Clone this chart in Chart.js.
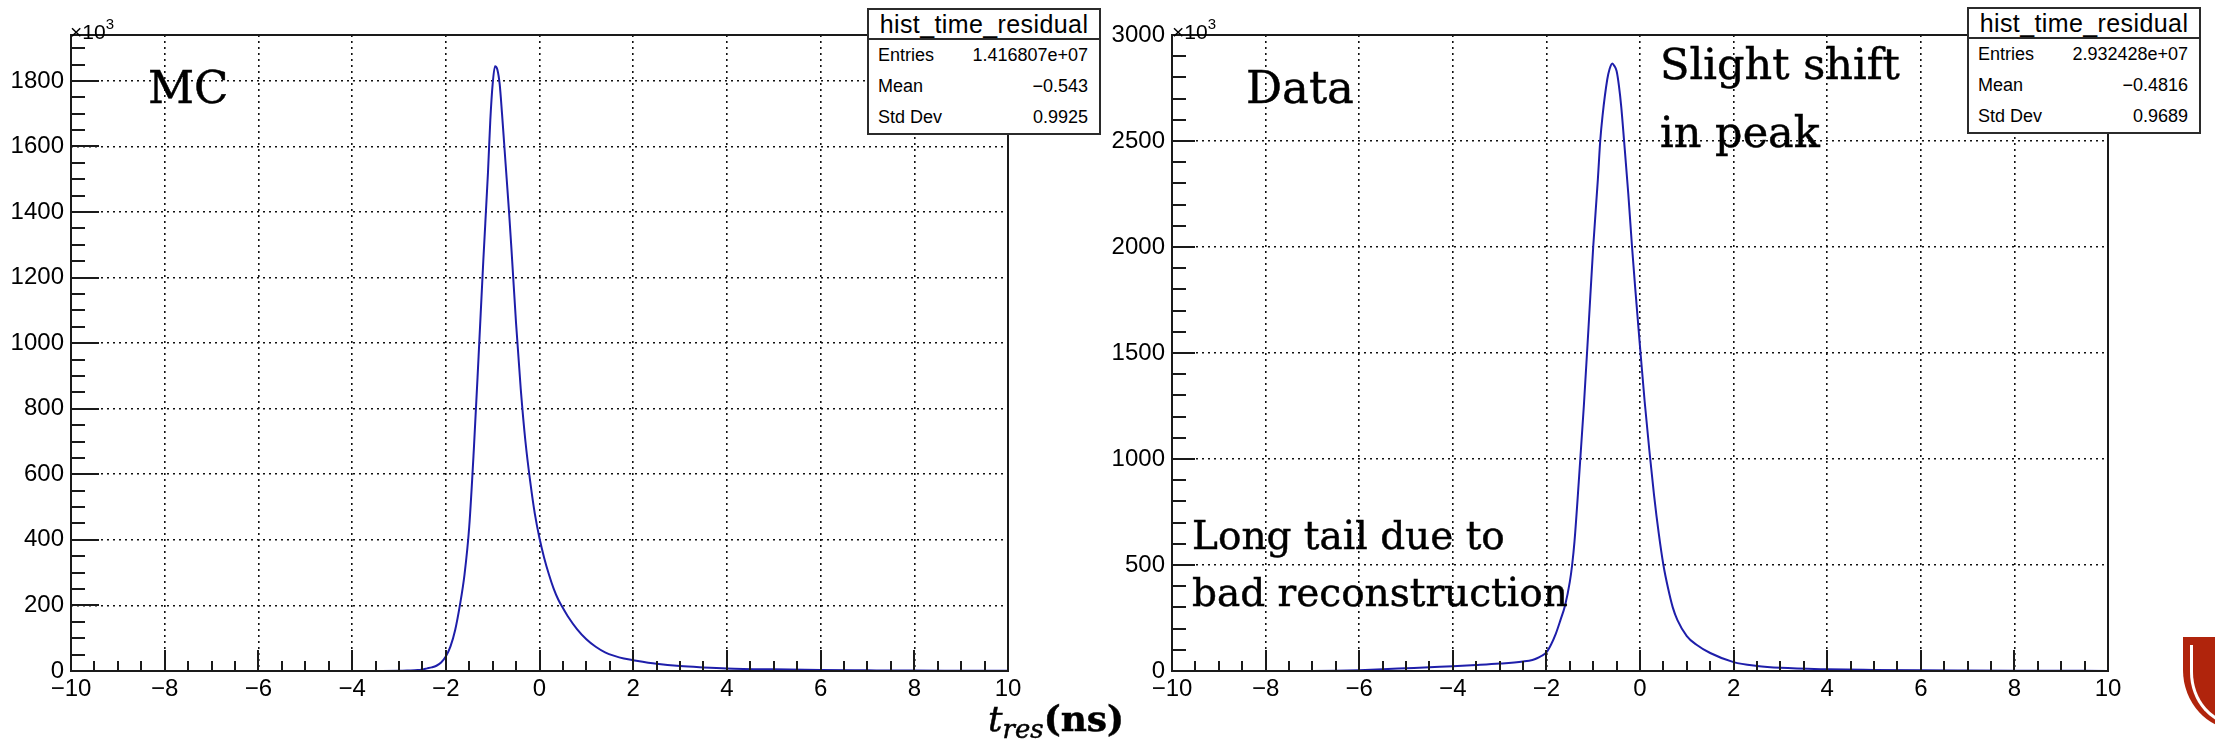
<!DOCTYPE html>
<html>
<head>
<meta charset="utf-8">
<script src="https://cdn.jsdelivr.net/npm/chart.js@4"></script>
<style>
  body { margin: 0; background: #fff; }
  #wrap { position: relative; width: 2215px; height: 747px; overflow: hidden; background: #fff; }
  canvas { position: absolute; top: 0; }
  .txt { position: absolute; white-space: nowrap; color: #000; }
  .serif { font-family: 'DejaVu Serif', serif; -webkit-text-stroke: 0.5px #000; }
  .exp { font-family: 'Liberation Sans', sans-serif; font-size: 21px; line-height: 21px; }
  .exp sup { font-size: 15px; position: relative; top: -2px; }
  .stats { position: absolute; width: 234px; height: 127px; box-sizing: border-box; border: 2px solid #2b2b2b;
           background: #fff; font-family: 'Liberation Sans', sans-serif; color: #000; }
  .st-title { height: 30px; box-sizing: border-box; border-bottom: 2px solid #2b2b2b; text-align: center;
              font-size: 25px; line-height: 28px; letter-spacing: 0.4px; }
  .st-row { height: 31px; line-height: 31px; font-size: 18px; display: flex; justify-content: space-between;
            padding: 0 11px 0 9px; }
  #logo { position: absolute; left: 2183px; top: 637px; width: 60px; height: 93px; background: #b0240c;
          border-bottom-left-radius: 56px 60px; }
  #logo div { position: absolute; left: 7px; top: 8px; width: 60px; height: 78px; border: 3px solid #fff;
              border-top: none; border-right: none; border-bottom-left-radius: 48px 54px; }
</style>
</head>
<body>
<div id="wrap">
  <canvas id="mcChart" width="1040" height="747" style="left:0px;width:1040px;height:747px"></canvas>
  <canvas id="dataChart" width="1040" height="747" style="left:1100px;width:1040px;height:747px"></canvas>

  <div class="txt exp" style="left:70px;top:15px">&times;10<sup>3</sup></div>
  <div class="txt exp" style="left:1172px;top:15px">&times;10<sup>3</sup></div>

  <div class="txt serif" style="left:148px;top:65px;font-size:45px;line-height:45px">MC</div>
  <div class="txt serif" style="left:1246px;top:65px;font-size:45px;line-height:45px">Data</div>
  <div class="txt serif" style="left:1660px;top:30px;font-size:43px;line-height:68px">Slight shift<br>in peak</div>
  <div class="txt serif" style="left:1192px;top:507px;font-size:39px;line-height:57px">Long tail due to<br>bad reconstruction</div>

  <div class="txt serif" style="left:988px;top:700px;font-size:36px;line-height:36px"><i>t</i><i style="font-size:26px;position:relative;top:7px">res</i><b>(ns)</b></div>

  <div class="stats" id="mcStats" style="left:867px;top:8px"></div>
  <div class="stats" id="dataStats" style="left:1967px;top:7px"></div>

  <div id="logo"><div></div></div>
</div>

<script>
// time residual bins (ns) and counts (x10^3)
var mcT = [-10, -6, -4, -3.5, -3.0, -2.8, -2.6, -2.5, -2.4, -2.3, -2.2, -2.1, -2.0, -1.9, -1.8, -1.7, -1.6, -1.5,
  -1.4, -1.3, -1.2, -1.1, -1.05, -1.0, -0.95, -0.9, -0.85, -0.8, -0.75, -0.7, -0.65, -0.6, -0.5, -0.4, -0.3,
  -0.2, -0.1, 0.0, 0.1, 0.2, 0.3, 0.4, 0.5, 0.6, 0.8, 1.0, 1.2, 1.4, 1.6, 1.8, 2.0, 2.5, 3.0, 3.5, 4.0, 5.0,
  6.0, 7.0, 8.0, 9.0, 10];
var mcN = [0, 0, 0, 0.2, 0.5, 1.5, 3, 5, 8, 11, 16, 26, 44, 75, 125, 200, 295, 440,
  680, 960, 1250, 1520, 1680, 1790, 1845, 1835, 1790, 1700, 1600, 1500, 1400, 1290, 1060, 860, 700,
  580, 480, 405, 345, 295, 252, 218, 192, 168, 128, 97, 74, 57, 46, 38, 33, 22, 15, 11, 8, 5,
  3, 2, 1.2, 0.8, 0.5];

var dataT = [-10, -7, -6.5, -6, -5.5, -5, -4.5, -4, -3.5, -3, -2.5, -2.3, -2.2, -2.1, -2.0, -1.9, -1.8, -1.7,
  -1.6, -1.5, -1.45, -1.4, -1.3, -1.2, -1.1, -1.0, -0.9, -0.85, -0.8, -0.7, -0.65, -0.59, -0.55, -0.5, -0.45,
  -0.4, -0.34, -0.25, -0.17, -0.1, 0.0, 0.1, 0.2, 0.3, 0.4, 0.5, 0.6, 0.7, 0.8, 1.0, 1.2, 1.5, 2.0, 2.5,
  3.0, 4.0, 5.0, 6.0, 7.0, 8.0, 9.0, 10];
var dataN = [0, 0, 1, 4, 8, 13, 18, 22, 28, 35, 45, 52, 60, 72, 88, 125, 175, 240,
  310, 420, 500, 610, 920, 1250, 1620, 2000, 2320, 2500, 2620, 2790, 2840, 2866, 2855, 2830, 2760,
  2660, 2500, 2250, 2000, 1800, 1530, 1270, 1040, 830, 650, 500, 390, 300, 240, 165, 125, 85, 42, 24,
  15, 8, 5, 3, 2, 1.2, 0.8, 0.5];

var xTicks = [-10, -8, -6, -4, -2, 0, 2, 4, 6, 8, 10];
var statNames = ['Entries', 'Mean', 'Std Dev'];
var mcStats = ['1.416807e+07', '\u22120.543', '0.9925'];
var dataStats = ['2.932428e+07', '\u22120.4816', '0.9689'];
var statTitle = 'hist_time_residual';

function fillStats(id, vals) {
  var box = document.getElementById(id);
  var html = '<div class="st-title">' + statTitle + '</div>';
  for (var i = 0; i < statNames.length; i++) {
    html += '<div class="st-row"><span>' + statNames[i] + '</span><span>' + vals[i] + '</span></div>';
  }
  box.innerHTML = html;
}

function minus(v) {
  return v < 0 ? '\u2212' + (-v) : '' + v;
}

// ROOT style frame with tick marks pointing into the pad
var rootFrame = {
  id: 'rootFrame',
  afterDatasetsDraw: function(chart, args, o) {
    var ctx = chart.ctx, a = chart.chartArea;
    var xs = chart.scales.x, ys = chart.scales.y;
    ctx.save();
    ctx.strokeStyle = '#1a1a1a';
    ctx.lineWidth = 2;
    ctx.beginPath();
    for (var v = xs.min; v <= xs.max + 1e-9; v += 0.5) {
      var px = Math.round(xs.getPixelForValue(v));
      var major = Math.abs(v / 2 - Math.round(v / 2)) < 1e-6;
      ctx.moveTo(px, a.bottom);
      ctx.lineTo(px, a.bottom - (major ? 21 : 10));
    }
    for (var w = 0; w <= ys.max + 1e-9; w += o.yMinor) {
      var py = Math.round(ys.getPixelForValue(w));
      var maj = (w % o.yMajor) == 0;
      ctx.moveTo(a.left, py);
      ctx.lineTo(a.left + (maj ? o.yLen : 14), py);
    }
    ctx.stroke();
    ctx.strokeRect(a.left, a.top, a.right - a.left, a.bottom - a.top);
    ctx.restore();
  }
};

function makeChart(id, t, n, yMax, yStep, yMinor, yLen, yWidth) {
  var pts = [];
  for (var i = 0; i < t.length; i++) pts.push({x: t[i], y: n[i]});
  var tickFont = {family: 'Liberation Sans', size: 24};

  return new Chart(document.getElementById(id).getContext('2d'), {
    type: 'line',
    data: {
      datasets: [{
        data: pts,
        borderColor: 'rgb(30,30,170)',
        borderWidth: 2,
        pointRadius: 0,
        fill: false,
        cubicInterpolationMode: 'monotone'
      }]
    },
    options: {
      responsive: false,
      animation: false,
      devicePixelRatio: 1,
      layout: {padding: {top: 35, right: 32, left: 0, bottom: 0}},
      plugins: {
        legend: {display: false},
        tooltip: {enabled: false},
        rootFrame: {yMajor: yStep, yMinor: yMinor, yLen: yLen}
      },
      scales: {
        x: {
          type: 'linear', min: -10, max: 10,
          afterBuildTicks: function(s) { s.ticks = xTicks.map(function(v) { return {value: v}; }); },
          afterFit: function(s) { s.height = 76; },
          ticks: {color: '#000', font: tickFont, padding: 4, maxRotation: 0, autoSkip: false,
                  callback: function(v) { return minus(v); }},
          grid: {drawTicks: false, lineWidth: 1.6,
                 color: function(c) { return (c.tick && Math.abs(c.tick.value) < 10) ? '#111' : 'rgba(0,0,0,0)'; }},
          border: {display: false, dash: [2, 4]}
        },
        y: {
          type: 'linear', min: 0, max: yMax,
          afterFit: function(s) { s.width = yWidth; },
          ticks: {color: '#000', font: tickFont, padding: 7, stepSize: yStep, includeBounds: false,
                  callback: function(v) { return '' + v; }},
          grid: {drawTicks: false, lineWidth: 1.6,
                 color: function(c) { return (c.tick && c.tick.value > 0 && c.tick.value < yMax) ? '#111' : 'rgba(0,0,0,0)'; }},
          border: {display: false, dash: [2, 4]}
        }
      }
    },
    plugins: [rootFrame]
  });
}

fillStats('mcStats', mcStats);
fillStats('dataStats', dataStats);
makeChart('mcChart', mcT, mcN, 1940, 200, 50, 28, 71);
makeChart('dataChart', dataT, dataN, 3000, 500, 100, 23, 72);
</script>
</body>
</html>
